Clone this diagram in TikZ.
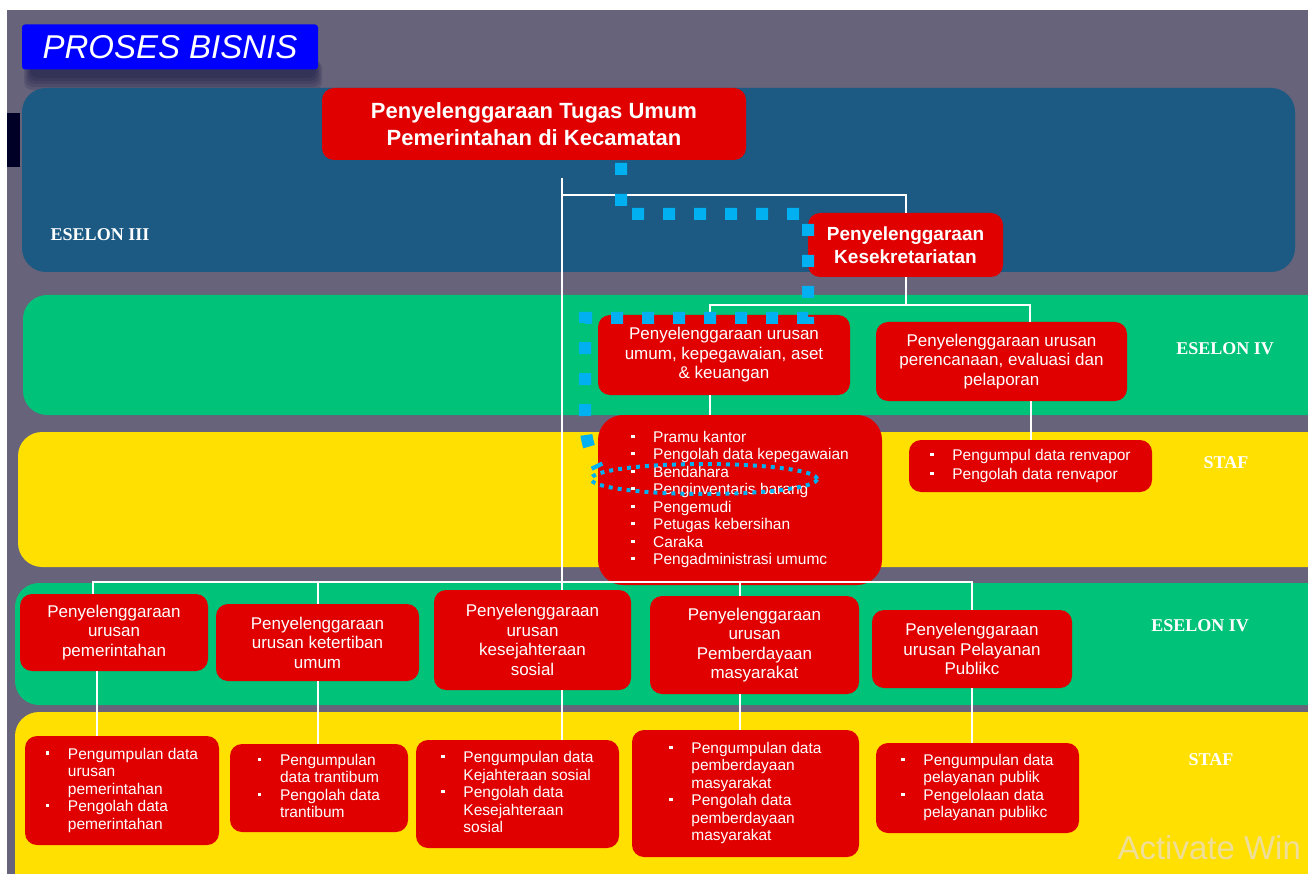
\documentclass[tikz,border=0pt]{standalone}
\usepackage{fontspec}
\setmainfont{Liberation Sans}
\newfontfamily\eselonfont{Liberation Serif}
\usepackage{xcolor}
\usepackage{tikz}
\definecolor{bggrey}{RGB}{102,99,122}
\definecolor{bandblue}{RGB}{28,90,132}
\definecolor{bandgreen}{RGB}{0,194,120}
\definecolor{bandyellow}{RGB}{255,224,0}
\definecolor{boxred}{RGB}{224,0,0}
\definecolor{dotblue}{RGB}{0,176,240}
\newcommand{\sq}{\raisebox{0.28em}{\rule{0.22em}{0.22em}}}
\newcommand{\bl}{\makebox[22pt][l]{\sq}}
\newcommand{\lst}[1]{\begin{tabular}{@{}l@{}l@{}}#1\end{tabular}}

\begin{document}
\begin{tikzpicture}[x=1pt,y=-1pt,
              band/.style={rounded corners=24pt},
              redbox/.style={fill=boxred, text=white, rounded corners=12pt, inner sep=0pt, align=center},
              boxsize/.style 2 args={minimum width=#1pt, minimum height=#2pt},
              eselon/.style={text=white, font=\eselonfont\bfseries\fontsize{18}{20}\selectfont},
              unitfont/.style={font=\fontsize{17}{19.5}\selectfont},
              staffont/.style={font=\fontsize{15.5}{17.5}\selectfont},
              conn/.style={white, line width=2pt},
              alur/.style={dotblue, line width=12pt, dash pattern=on 12pt off 19pt},
             ]
\useasboundingbox (0,0) rectangle (1308,874);
\clip (0,0) rectangle (1308,874);

% background and bands
\fill[white] (0,0) rectangle (1308,874);
\fill[bggrey] (7,10) rectangle (1308,874);
\fill[black!85!blue] (7,113) rectangle (20,167);
\foreach \d in {0,3,6,9,12}
  \fill[black!80!blue, opacity=0.12, rounded corners=8pt] (24+\d/2,60) rectangle (322-\d/2,90-\d);
\node[fill=blue, text=white, rounded corners=3pt, minimum width=296pt, minimum height=45pt,
      font=\itshape\fontsize{33}{36}\selectfont] (judul) at (170,47) {PROSES BISNIS};

\fill[bandblue, band] (22,88) rectangle (1295,272);
\fill[bandgreen, band] (23,295) rectangle (1340,415);
\fill[bandyellow, band] (18,432) rectangle (1340,567);
\fill[bandgreen, band] (15,583) rectangle (1340,705);
\fill[bandyellow, band] (15,712) rectangle (1340,900);

\node[eselon] (eselon3) at (100,235) {ESELON III};
\node[eselon] (eselon4a) at (1225,349) {ESELON IV};
\node[eselon] (stafa) at (1226,463) {STAF};
\node[eselon] (eselon4b) at (1200,626) {ESELON IV};
\node[eselon] (stafb) at (1211,760) {STAF};
\node[anchor=west, text={rgb,255:red,235;green,222;blue,190}, opacity=0.8,
      font=\fontsize{33}{35}\selectfont] (watermark) at (1114,848) {Activate Win};

% eselon III
\node[redbox, boxsize={424}{72}, font=\bfseries\fontsize{22}{27}\selectfont] (tugas) at (534,124) {Penyelenggaraan Tugas Umum\\Pemerintahan di Kecamatan};
\node[redbox, boxsize={195}{64}, font=\bfseries\fontsize{19}{23}\selectfont] (sekre) at (905.5,245) {Penyelenggaraan\\Kesekretariatan};

% eselon IV atas
\node[redbox, boxsize={252}{80}, unitfont] (umum) at (724,355) {Penyelenggaraan urusan\\umum, kepegawaian, aset\\\& keuangan};
\node[redbox, boxsize={251}{79}, unitfont] (renc) at (1001.5,361.5) {Penyelenggaraan urusan\\perencanaan, evaluasi dan\\pelaporan};

% staf atas
\node[redbox, boxsize={284}{170}, rounded corners=25pt, staffont] (stafumum) at (740,500) {\lst{\bl&Pramu kantor\\ \bl&Pengolah data kepegawaian\\ \bl&Bendahara\\ \bl&Penginventaris barang\\ \bl&Pengemudi\\ \bl&Petugas kebersihan\\ \bl&Caraka\\ \bl&Pengadministrasi umumc}};
\node[redbox, boxsize={243}{52}, font=\fontsize{15.5}{19}\selectfont] (renvapor) at (1030.5,466) {\lst{\bl&Pengumpul data renvapor\\ \bl&Pengolah data renvapor}};

% eselon IV bawah
\node[redbox, boxsize={188}{77}, unitfont] (pemer) at (114,632.5) {Penyelenggaraan\\urusan\\pemerintahan};
\node[redbox, boxsize={203}{77}, unitfont] (trantib) at (317.5,642.5) {Penyelenggaraan\\urusan ketertiban\\umum};
\node[redbox, boxsize={197}{100}, unitfont] (kesos) at (532.5,640) {Penyelenggaraan\\urusan\\kesejahteraan\\sosial};
\node[redbox, boxsize={209}{98}, unitfont] (berdaya) at (754.5,645) {Penyelenggaraan\\urusan\\Pemberdayaan\\masyarakat};
\node[redbox, boxsize={200}{78}, unitfont] (pelayan) at (972,649) {Penyelenggaraan\\urusan Pelayanan\\Publikc};

% staf bawah
\node[redbox, boxsize={194}{109}, staffont] (spemer) at (122,790.5) {\lst{\bl&Pengumpulan data\\ &urusan\\ &pemerintahan\\ \bl&Pengolah data\\ &pemerintahan}};
\node[redbox, boxsize={178}{88}, staffont] (strantib) at (319,788) {\lst{\bl&Pengumpulan\\ &data trantibum\\ \bl&Pengolah data\\ &trantibum}};
\node[redbox, boxsize={203}{108}, staffont] (skesos) at (517.5,794) {\lst{\bl&Pengumpulan data\\ &Kejahteraan sosial\\ \bl&Pengolah data\\ &Kesejahteraan\\ &sosial}};
\node[redbox, boxsize={227}{127}, staffont] (sberdaya) at (745.5,793.5) {\lst{\bl&Pengumpulan data\\ &pemberdayaan\\ &masyarakat\\ \bl&Pengolah data\\ &pemberdayaan\\ &masyarakat}};
\node[redbox, boxsize={203}{90}, staffont] (spelayan) at (977.5,788) {\lst{\bl&Pengumpulan data\\ &pelayanan publik\\ \bl&Pengelolaan data\\ &pelayanan publikc}};

% garis
\coordinate (trunk) at (562,178);
\coordinate (cab1) at (562,195);
\coordinate (cab2) at (905.5,305);
\coordinate (cab3) at (562,582);
\draw[conn] (trunk) -- ([xshift=29.5pt]kesos.north);
\draw[conn] (cab1) -| (sekre.north);
\draw[conn] (sekre.south) -- (cab2);
\draw[conn] ([xshift=-14pt]umum.north) |- (cab2) -| ([xshift=28pt]renc.north);
\draw[conn] ([xshift=-14pt]umum.south) -- ([xshift=-14pt]umum.south |- stafumum.north);
\draw[conn] (renvapor.north) -- (renvapor.north |- renc.south);
\draw[conn] ([xshift=-21pt]pemer.north) |- (cab3) -| (pelayan.north);
\draw[conn] (trantib.north) -- (trantib.north |- cab3);
\draw[conn] ([xshift=-14.5pt]berdaya.north) -- ([xshift=-14.5pt]berdaya.north |- cab3);
\draw[conn] ([xshift=-17pt]pemer.south) -- ([xshift=-17pt]pemer.south |- spemer.north);
\draw[conn] (trantib.south) -- (trantib.south |- strantib.north);
\draw[conn] ([xshift=29.5pt]kesos.south) -- ([xshift=29.5pt]kesos.south |- skesos.north);
\draw[conn] ([xshift=-14.5pt]berdaya.south) -- ([xshift=-14.5pt]berdaya.south |- sberdaya.north);
\draw[conn] (pelayan.south) -- (pelayan.south |- spelayan.north);

% alur bendahara
\draw[alur] (621,163) -- (621,214) -- (808,214) -- (808,318) -- (585,318) -- (585,415) .. controls (585,440) and (590,452) .. (598,468);
\draw[dotblue, line width=4pt, dash pattern=on 4pt off 5pt] (704,479) ellipse [x radius=113pt, y radius=15pt];
\end{tikzpicture}
\end{document}
